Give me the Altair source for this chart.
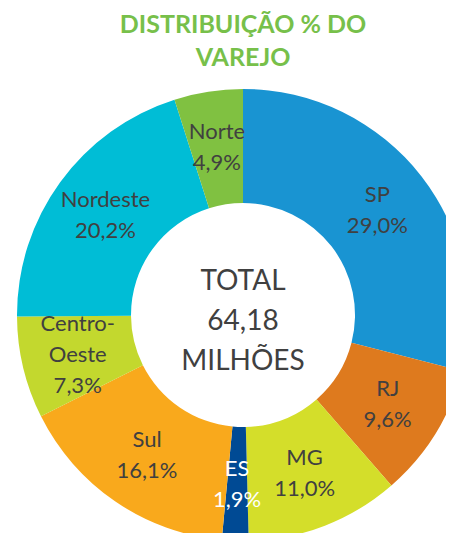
import altair as alt
import pandas as pd

regions = ["SP", "RJ", "MG", "ES", "Sul", "Centro-Oeste", "Nordeste", "Norte"]
label_names = ["SP", "RJ", "MG", "ES", "Sul", "Centro-\nOeste", "Nordeste", "Norte"]
shares = [29.0, 9.6, 11.0, 1.9, 16.1, 7.3, 20.2, 4.9]
slice_colors = ["#1994D2", "#DE7A1E", "#D4DE2A", "#004A94", "#F9A91C", "#C3D82E", "#00BDD6", "#80C141"]
label_colors = ["#404040", "#404040", "#404040", "#FFFFFF", "#404040", "#404040", "#404040", "#404040"]
title_lines = ["DISTRIBUIÇÃO % DO", "VAREJO"]
center_lines = ["TOTAL", "64,18", "MILHÕES"]

labels_txt = [n + "\n" + f"{v:.1f}".replace(".", ",") + "%" for n, v in zip(label_names, shares)]
df = pd.DataFrame({
    "region": regions,
    "share": shares,
    "i": list(range(len(regions))),
    "label": labels_txt,
    "nlines": [t.count("\n") + 1 for t in labels_txt],
    "lcolor": label_colors,
})

CX, CY = 235, 307
R_OUT, R_IN = 226, 112
LH = 31

base = alt.Chart(df).encode(
    theta=alt.Theta("share:Q", stack=True),
    order=alt.Order("i:O"),
)

arcs = base.mark_arc(outerRadius=R_OUT, innerRadius=R_IN).encode(
    color=alt.Color("region:N", scale=alt.Scale(domain=regions, range=slice_colors), legend=None),
    x=alt.value(CX),
    y=alt.value(CY),
)


def label_layer(n):
    return base.mark_text(
        font="Lato", fontSize=22, lineBreak="\n", lineHeight=LH, align="center",
        baseline="middle", dy=-(n - 1) * LH / 2
    ).encode(
        text="label:N",
        color=alt.Color("lcolor:N", scale=None),
        radius=alt.value(170),
        x=alt.value(CX),
        y=alt.value(CY),
        opacity=alt.condition(f"datum.nlines == {n}", alt.value(1), alt.value(0)),
    )


center = alt.Chart(pd.DataFrame({"t": ["\n".join(center_lines)]})).mark_text(
    font="Lato", fontSize=28, lineBreak="\n", lineHeight=40, color="#404040",
    align="center", baseline="middle"
).encode(text="t:N", x=alt.value(CX), y=alt.value(CY + 7 - 40))

title = alt.Chart(pd.DataFrame({"t": ["\n".join(title_lines)]})).mark_text(
    font="Lato", fontSize=25, fontWeight="bold", lineBreak="\n", lineHeight=33, color="#77C04A",
    align="center", baseline="middle"
).encode(text="t:N", x=alt.value(CX), y=alt.value(17))

chart = alt.layer(arcs, label_layer(2), label_layer(3), center, title).properties(
    width=438, height=525, padding=0, autosize=alt.AutoSizeParams(type="none")
).configure_view(stroke=None)

chart.save("out.html", embed_options={"renderer": "svg", "actions": False})
